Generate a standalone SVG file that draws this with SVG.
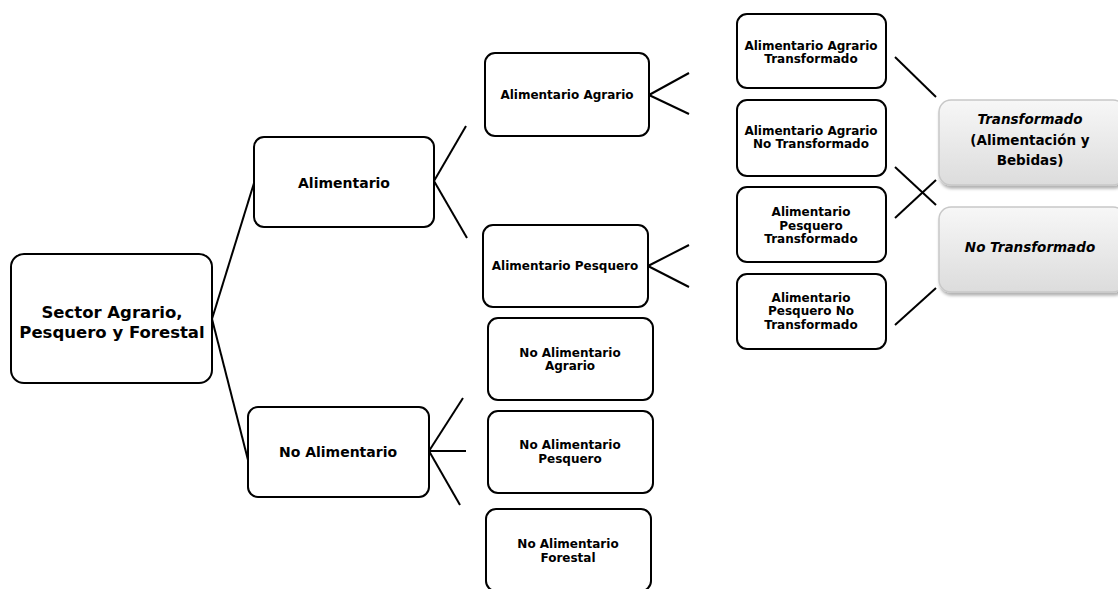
<svg xmlns="http://www.w3.org/2000/svg" width="1118" height="589" viewBox="0 0 1118 589">
<defs>
<linearGradient id="g" x1="0" y1="0" x2="0" y2="1">
<stop offset="0" stop-color="#f7f7f7"/>
<stop offset="1" stop-color="#dcdcdc"/>
</linearGradient>
<filter id="sh" x="-10%" y="-10%" width="130%" height="130%">
<feDropShadow dx="1" dy="3" stdDeviation="1.5" flood-color="#000" flood-opacity="0.3"/>
</filter>
</defs>
<style>
.b{fill:#fff;stroke:#000;stroke-width:2}
.gb{fill:url(#g);stroke:#c8c8c8;stroke-width:1.5;filter:url(#sh)}
text{font-family:"DejaVu Sans",Verdana,sans-serif;font-weight:bold;text-anchor:middle;fill:#000}
.t16{font-size:16.5px}
.t14{font-size:14px}
.t13{font-size:13.5px}
.t11{font-size:12px}
.it{font-style:italic}
.c{stroke:#000;stroke-width:2;fill:none}
</style>
<g id="connectors">
<line class="c" x1="212" y1="319" x2="254" y2="183"/>
<line class="c" x1="212" y1="319" x2="248" y2="460"/>
<line class="c" x1="434" y1="181" x2="466" y2="126"/>
<line class="c" x1="434" y1="181" x2="467" y2="238"/>
<line class="c" x1="429" y1="451" x2="463" y2="398"/>
<line class="c" x1="429" y1="451" x2="466" y2="451"/>
<line class="c" x1="429" y1="451" x2="460" y2="505"/>
<line class="c" x1="649" y1="95" x2="689" y2="73"/>
<line class="c" x1="649" y1="95" x2="689" y2="114"/>
<line class="c" x1="648" y1="266" x2="689" y2="245"/>
<line class="c" x1="648" y1="266" x2="689" y2="287"/>
<line class="c" x1="895" y1="57" x2="936" y2="97"/>
<line class="c" x1="895" y1="167" x2="936" y2="205"/>
<line class="c" x1="895" y1="218" x2="936" y2="180"/>
<line class="c" x1="895" y1="325" x2="936" y2="288"/>
</g>
<g id="root">
<rect class="b" x="11" y="254" width="201" height="129" rx="13"/>
<text class="t16" x="112" y="318">Sector Agrario,</text>
<text class="t16" x="112" y="338">Pesquero y Forestal</text>
</g>
<g id="alimentario">
<rect class="b" x="254" y="137" width="180" height="90" rx="10"/>
<text class="t14" x="344" y="188">Alimentario</text>
</g>
<g id="no-alimentario">
<rect class="b" x="248" y="407" width="181" height="90" rx="10"/>
<text class="t14" x="338" y="457">No Alimentario</text>
</g>
<g id="alimentario-agrario">
<rect class="b" x="485" y="53" width="164" height="83" rx="10"/>
<text class="t11" x="567" y="99">Alimentario Agrario</text>
</g>
<g id="alimentario-pesquero">
<rect class="b" x="483" y="225" width="165" height="82" rx="10"/>
<text class="t11" x="565" y="270">Alimentario Pesquero</text>
</g>
<g id="no-alimentario-agrario">
<rect class="b" x="488" y="318" width="165" height="82" rx="10"/>
<text class="t11" x="570" y="357">No Alimentario</text>
<text class="t11" x="570" y="370">Agrario</text>
</g>
<g id="no-alimentario-pesquero">
<rect class="b" x="488" y="411" width="165" height="82" rx="10"/>
<text class="t11" x="570" y="449">No Alimentario</text>
<text class="t11" x="570" y="463">Pesquero</text>
</g>
<g id="no-alimentario-forestal">
<rect class="b" x="486" y="509" width="165" height="82" rx="10"/>
<text class="t11" x="568" y="548">No Alimentario</text>
<text class="t11" x="568" y="562">Forestal</text>
</g>
<g id="aat">
<rect class="b" x="737" y="14" width="149" height="74" rx="10"/>
<text class="t11" x="811" y="50">Alimentario Agrario</text>
<text class="t11" x="811" y="63">Transformado</text>
</g>
<g id="aant">
<rect class="b" x="737" y="100" width="149" height="76" rx="10"/>
<text class="t11" x="811" y="135">Alimentario Agrario</text>
<text class="t11" x="811" y="148">No Transformado</text>
</g>
<g id="apt">
<rect class="b" x="737" y="187" width="149" height="75" rx="10"/>
<text class="t11" x="811" y="216">Alimentario</text>
<text class="t11" x="811" y="230">Pesquero</text>
<text class="t11" x="811" y="243">Transformado</text>
</g>
<g id="apnt">
<rect class="b" x="737" y="274" width="149" height="75" rx="10"/>
<text class="t11" x="811" y="302">Alimentario</text>
<text class="t11" x="811" y="315">Pesquero No</text>
<text class="t11" x="811" y="329">Transformado</text>
</g>
<g id="transformado">
<rect class="gb" x="939" y="100" width="186" height="85" rx="12"/>
<text class="t13 it" x="1030" y="124">Transformado</text>
<text class="t13" x="1030" y="145">(Alimentación y</text>
<text class="t13" x="1030" y="165">Bebidas)</text>
</g>
<g id="no-transformado">
<rect class="gb" x="939" y="207" width="186" height="85" rx="12"/>
<text class="t13 it" x="1030" y="252">No Transformado</text>
</g>
</svg>
